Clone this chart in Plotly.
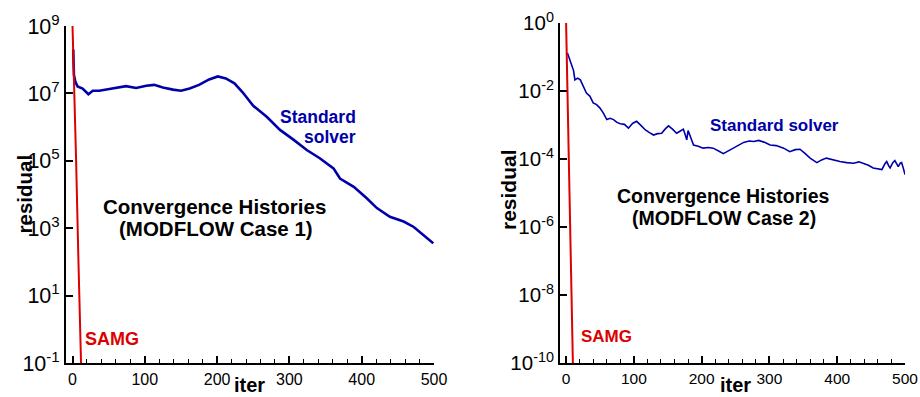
import plotly.graph_objects as go

W, H = 920, 397

# ---------------- data ----------------
# Case 1
samg1_iter = [0, 2, 5, 8, 12, 13]
samg1_res = [1e9, 1e7, 1e5, 1.6e2, 1e-1, 1e-2]

std1_iter = [1, 2, 4, 7, 14, 22, 28, 37, 51, 65, 74, 88, 102, 113, 125, 139, 150,
             162, 175, 189, 201, 212, 224, 235, 250, 269, 287, 306, 324, 342, 361,
             370, 389, 407, 421, 439, 458, 472, 485, 499]
std1_res = [2.0e8, 3.5e7, 2.2e7, 1.6e7, 1.4e7, 9.5e6, 1.2e7, 1.2e7, 1.35e7, 1.5e7,
            1.65e7, 1.45e7, 1.7e7, 1.8e7, 1.5e7, 1.3e7, 1.2e7, 1.4e7, 1.8e7, 2.6e7,
            3.2e7, 2.8e7, 2.0e7, 1.1e7, 4.3e6, 2.0e6, 8.3e5, 4.2e5, 2.1e5, 1.2e5,
            6.0e4, 3.0e4, 1.7e4, 7.8e3, 4.0e3, 2.2e3, 1.6e3, 1.1e3, 6.3e2, 3.6e2]

# Case 2
samg2_iter = [0, 2, 4, 5.2, 7.4, 10.3, 11]
samg2_res = [1.0, 1e-2, 1e-4, 1e-6, 1e-8, 1e-10, 1e-11]

std2_iter = [2, 5, 8, 11, 13, 17, 21, 25, 30, 35, 40, 45, 50, 55, 60, 65, 70, 75, 80,
             86, 92, 98, 104, 110, 117, 123, 129, 135, 141, 146, 151, 157, 163, 168,
             173, 176, 178, 180, 183, 188, 195, 202, 210, 217, 225, 232, 240, 247,
             257, 262, 270, 277, 284, 292, 301, 310, 321, 326, 330, 338, 345, 352,
             360, 370, 377, 384, 394, 404, 414, 424, 432, 439, 446, 453, 460, 466,
             470, 473, 476, 478, 482, 485, 488, 490, 493, 495, 498, 500]
std2_res = [0.132, 0.089, 0.066, 0.040, 0.0214, 0.024, 0.0214, 0.0141, 0.0087, 0.0071,
            0.0045, 0.0040, 0.00316, 0.00224, 0.00145, 0.00158, 0.00145, 0.0012, 0.0011,
            0.00105, 8.1e-4, 1.12e-3, 1.29e-3, 1.0e-3, 7.2e-4, 6.0e-4, 5.1e-4, 5.6e-4,
            5.75e-4, 7.6e-4, 9.5e-4, 7.6e-4, 5.75e-4, 6.6e-4, 7.6e-4, 5.0e-4, 3.7e-4,
            6.9e-4, 5.0e-4, 2.6e-4, 2.4e-4, 2.1e-4, 2.2e-4, 2.1e-4, 1.74e-4, 1.45e-4,
            1.78e-4, 2.1e-4, 2.8e-4, 3.1e-4, 3.4e-4, 3.3e-4, 3.55e-4, 3.16e-4, 2.6e-4,
            2.5e-4, 2.1e-4, 1.9e-4, 1.66e-4, 1.9e-4, 1.95e-4, 1.5e-4, 1.07e-4, 7.9e-5,
            9.5e-5, 1.07e-4, 9.5e-5, 8.5e-5, 7.9e-5, 7.6e-5, 8.3e-5, 7.6e-5, 6.6e-5,
            5.5e-5, 5.25e-5, 4.9e-5, 7.1e-5, 8.5e-5, 6.3e-5, 5.5e-5, 7.9e-5, 9.1e-5,
            7.1e-5, 6.0e-5, 7.6e-5, 7.9e-5, 5.0e-5, 3.5e-5]

# tick labels
y1_tickvals = [1e-1, 1e1, 1e3, 1e5, 1e7, 1e9]
y1_ticktext = ["10<sup>-1</sup>", "10<sup>1</sup>", "10<sup>3</sup>",
               "10<sup>5</sup>", "10<sup>7</sup>", "10<sup>9</sup>"]
y2_tickvals = [1e-10, 1e-8, 1e-6, 1e-4, 1e-2, 1e0]
y2_ticktext = ["10<sup>-10</sup>", "10<sup>-8</sup>", "10<sup>-6</sup>",
               "10<sup>-4</sup>", "10<sup>-2</sup>", "10<sup>0</sup>"]
x_tickvals = [0, 100, 200, 300, 400, 500]

# ---------------- styling ----------------
FONT = "Liberation Sans, Arial, Helvetica, sans-serif"
BLUE = "#0000AA"
RED = "#DD0000"


def px(x):
    return x / W


def py(y):
    return 1 - y / H


fig = go.Figure()
fig.add_trace(go.Scatter(x=std1_iter, y=std1_res, mode="lines",
                         line=dict(color=BLUE, width=2.6), xaxis="x", yaxis="y"))
fig.add_trace(go.Scatter(x=samg1_iter, y=samg1_res, mode="lines",
                         line=dict(color=RED, width=2), xaxis="x", yaxis="y"))
fig.add_trace(go.Scatter(x=std2_iter, y=std2_res, mode="lines",
                         line=dict(color=BLUE, width=1.6), xaxis="x2", yaxis="y2"))
fig.add_trace(go.Scatter(x=samg2_iter, y=samg2_res, mode="lines",
                         line=dict(color=RED, width=2), xaxis="x2", yaxis="y2"))


def xaxis(domain, anchor, size):
    return dict(domain=domain, anchor=anchor, range=[-9, 500],
                tickmode="array", tickvals=x_tickvals,
                ticks="inside", ticklen=7, tickwidth=1.5, tickcolor="black",
                minor=dict(ticks="inside", dtick=20, tick0=0, ticklen=4,
                           tickwidth=1.2, tickcolor="black"),
                showline=True, linewidth=2, linecolor="black", mirror=False,
                showgrid=False, zeroline=False, automargin=False,
                tickfont=dict(family=FONT, size=size, color="black"))


def yaxis(domain, anchor, rng, vals, text, size):
    return dict(domain=domain, anchor=anchor, type="log", range=rng,
                tickmode="array", tickvals=vals, ticktext=text,
                ticks="inside", ticklen=7, tickwidth=1.5, tickcolor="black",
                showline=True, linewidth=2, linecolor="black", mirror=False,
                showgrid=False, zeroline=False, automargin=False,
                tickfont=dict(family=FONT, size=size, color="black"))


fig.update_layout(
    width=W, height=H,
    margin=dict(l=0, r=0, t=0, b=0),
    paper_bgcolor="white", plot_bgcolor="white",
    showlegend=False,
    xaxis=xaxis([px(66), px(434)], "y", 16),
    yaxis=yaxis([py(363.3), py(26)], "x", [-1, 9], y1_tickvals, y1_ticktext, 21.5),
    xaxis2=xaxis([px(560), px(905)], "y2", 15.5),
    yaxis2=yaxis([py(363.3), py(23)], "x2", [-10, 0], y2_tickvals, y2_ticktext, 20.5),
)


def ann(text, x, y, size, color="black", bold=True, xanchor="center", angle=0):
    t = f"<b>{text}</b>" if bold else text
    fig.add_annotation(text=t, x=px(x), y=py(y), xref="paper", yref="paper",
                       xanchor=xanchor, yanchor="middle", showarrow=False,
                       textangle=angle,
                       font=dict(family=FONT, size=size, color=color))


# left panel texts
ann("Convergence Histories", 214, 206, 20.5)
ann("(MODFLOW Case 1)", 216, 228, 20.5)
ann("Standard", 358, 117, 17.5, BLUE, xanchor="right")
ann("solver", 358, 137, 17.5, BLUE, xanchor="right")
ann("SAMG", 83, 339, 18, RED, xanchor="left")
ann("residual", 24, 194.5, 20.5, angle=-90)
ann("iter", 249, 385, 20)

# right panel texts
ann("Convergence Histories", 723.5, 196, 19.5)
ann("(MODFLOW Case 2)", 724, 218, 19.5)
ann("Standard solver", 774, 126, 17, BLUE)
ann("SAMG", 579, 336, 17, RED, xanchor="left")
ann("residual", 508, 190, 21, angle=-90)
ann("iter", 735, 385, 20)

fig.write_html("out.html")
